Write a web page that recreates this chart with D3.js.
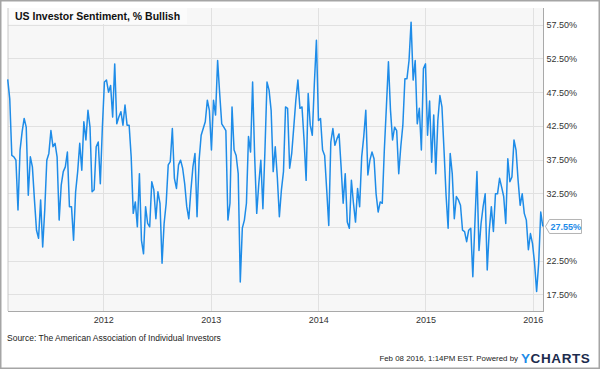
<!DOCTYPE html>
<html><head><meta charset="utf-8">
<script src="https://cdn.jsdelivr.net/npm/d3@7"></script>
<style>
body{margin:0;background:#fff}
svg{display:block}
text{font-family:"Liberation Sans",Arial,Helvetica,sans-serif}
</style>
</head><body>
<svg id="chart" width="600" height="369"></svg>
<script>
// ---- data ----
const startDate = "2011-02-10"; // first weekly reading (Thursday)
const bullish = [
49.4,46.5,38.1,37.9,37.4,30.0,38.9,41.6,43.6,42.3,
32.2,37.9,36.4,31.5,27.0,25.8,31.5,24.5,30.0,37.4,
38.4,41.8,39.4,39.9,37.9,28.5,33.7,35.7,36.4,38.6,
30.5,30.5,25.5,32.7,35.7,39.9,35.9,43.1,40.4,44.8,
42.3,32.7,33.0,39.4,40.1,33.9,42.3,49.0,49.3,47.5,
48.5,43.8,51.7,42.8,43.8,44.6,42.6,45.6,42.6,42.6,
37.9,29.5,31.2,27.5,35.4,25.5,23.5,30.5,28.0,27.5,
34.2,33.0,28.7,32.7,31.0,22.1,28.0,31.0,36.7,37.2,
42.1,34.7,33.2,36.7,37.4,36.2,33.9,30.5,28.7,32.9,
36.4,38.4,29.0,37.4,41.1,42.1,43.1,46.3,44.8,38.9,
46.3,44.1,52.2,47.3,42.8,42.3,41.8,28.5,31.0,45.3,
38.9,38.1,35.4,19.3,27.3,28.5,31.0,40.9,38.6,49.0,
37.9,29.5,33.9,37.4,30.2,38.9,49.0,47.8,44.8,35.7,
39.4,34.9,29.0,33.0,35.7,45.3,45.1,36.2,38.4,42.3,
46.3,49.3,45.1,45.3,40.4,34.4,47.3,42.6,41.1,48.8,
55.2,43.3,43.6,38.9,38.1,33.0,27.7,40.1,42.1,39.6,
40.6,41.3,36.4,31.0,35.4,28.2,27.3,34.4,31.0,28.2,
33.2,30.5,37.9,40.9,44.8,35.2,37.4,38.6,37.6,32.4,
29.7,31.2,31.0,38.9,45.3,52.0,44.8,40.4,42.3,41.8,
35.4,39.4,42.6,49.5,49.5,52.2,57.9,49.3,52.2,42.8,
45.1,38.9,51.0,51.7,41.1,46.2,37.1,44.1,35.4,43.3,
47.0,45.3,38.9,32.2,27.3,38.4,35.4,28.7,32.0,31.5,
30.7,27.0,26.8,25.3,27.0,27.3,20.1,28.0,35.7,24.0,
28.0,30.5,32.4,21.1,27.0,30.5,26.8,32.4,32.4,34.7,
33.4,32.0,28.0,37.6,34.2,34.9,40.4,38.9,34.4,30.7,
32.4,29.5,28.5,24.1,26.5,25.0,22.1,17.9,22.1,29.7,
27.55
];
const yTicks = [17.5, 22.5, 27.5, 32.5, 37.5, 42.5, 47.5, 52.5, 57.5];
const xTickYears = ["2012", "2013", "2014", "2015", "2016"];
const titleText = "US Investor Sentiment, % Bullish";
const sourceText = "Source: The American Association of Individual Investors";
const stampText = "Feb 08 2016, 1:14PM EST.  Powered by";

// ---- build ----
const parse = d3.utcParse("%Y-%m-%d");
const t0 = parse(startDate);
const data = bullish.map((v, i) => ({date: d3.utcDay.offset(t0, 7 * i), value: v}));
const lastVal = bullish[bullish.length - 1];

const L = 7.7, R = 542.8, AXR = 543.5, T = 8, B = 311;
const x = d3.scaleUtc().domain([data[0].date, data[data.length - 1].date]).range([L, R]);
const y = d3.scaleLinear().domain([15, 60]).range([B, T]);

const svg = d3.select("#chart");
const lineColor = "#1e8ce8";

svg.append("rect").attr("x", 0).attr("y", 0).attr("width", 600).attr("height", 369).attr("fill", "#fff");

// plot background
svg.append("rect").attr("x", 8).attr("y", T).attr("width", AXR - 8).attr("height", B - T).attr("fill", "#f7f7f7");

// horizontal grid
svg.append("g").selectAll("line").data(yTicks).join("line")
  .attr("x1", 8).attr("x2", AXR)
  .attr("y1", d => Math.round(y(d)) + 0.5).attr("y2", d => Math.round(y(d)) + 0.5)
  .attr("stroke", "#e1e1e1").attr("stroke-width", 1);

// vertical grid
const yearDates = xTickYears.map(s => d3.utcParse("%Y")(s));
svg.append("g").selectAll("line").data(yearDates).join("line")
  .attr("x1", d => Math.round(x(d)) + 0.5).attr("x2", d => Math.round(x(d)) + 0.5)
  .attr("y1", T).attr("y2", B)
  .attr("stroke", "#e1e1e1").attr("stroke-width", 1);

// title box
svg.append("rect").attr("x", 8).attr("y", T).attr("width", 179).attr("height", 16)
  .attr("fill", "#fbfbfb");
svg.append("text").attr("x", 15).attr("y", 20).attr("font-size", 10.5).attr("font-weight", "bold")
  .attr("fill", "#111").text(titleText);

// axis lines
svg.append("line").attr("x1", 8).attr("x2", 8).attr("y1", T).attr("y2", B).attr("stroke", "#c8c8c8");
svg.append("line").attr("x1", 8).attr("x2", AXR).attr("y1", B + 0.5).attr("y2", B + 0.5).attr("stroke", "#a9a9a9");
svg.append("line").attr("x1", AXR).attr("x2", AXR).attr("y1", T).attr("y2", B + 1).attr("stroke", "#a9a9a9");

// data line
svg.append("path").datum(data)
  .attr("fill", "none").attr("stroke", lineColor).attr("stroke-width", 1.5)
  .attr("stroke-linejoin", "round")
  .attr("d", d3.line().x(d => x(d.date)).y(d => y(d.value)));

// right axis labels (the one hidden behind the last-value flag is not drawn, as in the reference)
const labelTicks = yTicks.filter(v => Math.abs(y(v) - y(lastVal)) > 8);
const yAxis = d3.axisRight(y).tickValues(labelTicks).tickFormat(d => d.toFixed(2) + "%").tickSize(0).tickPadding(3);
const gy = svg.append("g").attr("transform", `translate(${AXR},0)`).call(yAxis);
gy.select(".domain").remove();
gy.selectAll("text").attr("font-size", 9).attr("fill", "#333").attr("font-family", "Liberation Sans, Arial, sans-serif");

// bottom axis labels
const xAxis = d3.axisBottom(x).tickValues(yearDates).tickFormat(d3.utcFormat("%Y")).tickSize(0).tickPadding(6);
const gx = svg.append("g").attr("transform", `translate(0,${B})`).call(xAxis);
gx.select(".domain").remove();
gx.selectAll("text").attr("font-size", 9).attr("fill", "#333").attr("font-family", "Liberation Sans, Arial, sans-serif");

// last value flag
const ly = y(lastVal);
const fx = AXR + 2, fw = 36, fh = 14;
svg.append("path")
  .attr("d", `M${fx},${ly} L${fx + 4},${ly - fh / 2} L${fx + fw},${ly - fh / 2} L${fx + fw},${ly + fh / 2} L${fx + 4},${ly + fh / 2} Z`)
  .attr("fill", "#fff").attr("stroke", "#b5b5b5").attr("stroke-width", 1);
svg.append("text").attr("x", fx + 5).attr("y", ly + 3.5).attr("font-size", 9).attr("font-weight", "bold")
  .attr("fill", lineColor).text(lastVal.toFixed(2) + "%");

// source + footer
svg.append("text").attr("x", 7).attr("y", 341).attr("font-size", 8.5).attr("fill", "#222").text(sourceText);
svg.append("text").attr("x", 518).attr("y", 361).attr("text-anchor", "end").attr("font-size", 7.9)
  .attr("fill", "#222").text(stampText);
const logo = svg.append("text").attr("x", 521).attr("y", 363).attr("font-size", 13.5).attr("font-weight", "bold")
  .attr("letter-spacing", 0.6);
logo.append("tspan").attr("fill", "#1e8ce8").text("Y");
logo.append("tspan").attr("fill", "#1c2b4d").text("CHARTS");

// outer frame
svg.append("rect").attr("x", 0.75).attr("y", 0.75).attr("width", 598.5).attr("height", 367.5)
  .attr("fill", "none").attr("stroke", "#a5a5a5").attr("stroke-width", 1.5);
</script>
</body></html>
